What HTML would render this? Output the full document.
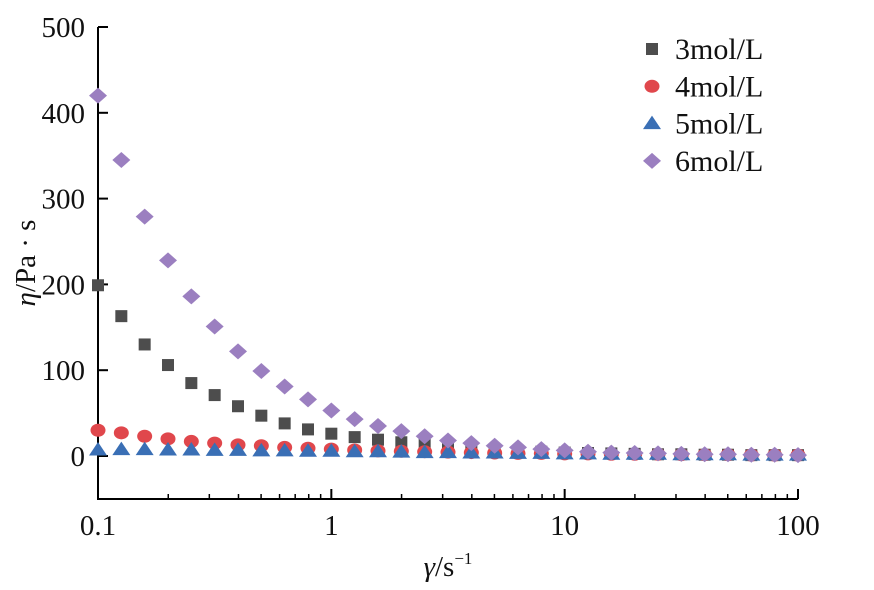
<!DOCTYPE html>
<html><head><meta charset="utf-8"><style>body{margin:0;background:#fff}svg text{font-family:"Liberation Serif",serif;fill:#111}</style></head>
<body>
<svg id="chart" width="874" height="585" xmlns="http://www.w3.org/2000/svg"></svg>
<script>
const categories = ["3mol/L","4mol/L","5mol/L","6mol/L"];
const xExps = [0,1,2,3,4,5,6,7,8,9,10,11,12,13,14,15,16,17,18,19,20,21,22,23,24,25,26,27,28,29,30];
const s3 = [199,163,130,106,85,71,58,47,38,31,26,22,19,16,13,11,9,7,6,5,4,3.5,3,2.5,2,2,1.5,1.5,1,1,1];
const s4 = [30,27,23,20,17,15,13,12,10,9,8,7,6,5.5,5,4.5,4,3.5,3,3,2.5,2.5,2,2,2,1.5,1.5,1.5,1,1,1];
const s5 = [7,7.5,7.5,7,7,6.5,6.5,6,6,5.5,5.5,5,5,4.5,4,4,3.5,3.5,3,3,2.5,2.5,2,2,2,1.5,1.5,1.5,1,1,1];
const s6 = [420,345,279,228,186,151,122,99,81,66,53,43,35,29,23,18,15,12,10,8,6.5,5,4,3.5,3,2.5,2,2,1.5,1.5,1];
const yTicks = [0,100,200,300,400,500];
const xTicks = [0.1,1,10,100];
const xTickLabels = ["0.1","1","10","100"];
const colors = ["#4d4d4d","#e0474c","#3a6fb5","#9b7fc0"];
const series = [s3,s4,s5,s6];
const svg = document.getElementById('chart');
const NS = "http://www.w3.org/2000/svg";
const L=98,R=798,T=27,B=499;
const X = v => L + (Math.log10(v)+1)/3*(R-L);
const Y = v => 456 - v*(456-27)/500;
function mk(tag, attrs, parent){const e=document.createElementNS(NS,tag);for(const k in attrs)e.setAttribute(k,attrs[k]);(parent||svg).appendChild(e);return e;}
const ax = mk('g',{});


mk('line',{x1:L,y1:T,x2:L,y2:B,stroke:'#000','stroke-width':2},ax);
mk('line',{x1:L-1,y1:B,x2:R,y2:B,stroke:'#000','stroke-width':2},ax);
yTicks.forEach(v=>{
  mk('line',{x1:L,y1:Y(v),x2:L+10,y2:Y(v),stroke:'#000','stroke-width':2},ax);
  const t=mk('text',{x:L-13,y:Y(v)+10,'text-anchor':'end','font-size':29},ax);t.textContent=v;
  
  
});
xTicks.forEach((v,i)=>{
  mk('line',{x1:X(v),y1:B,x2:X(v),y2:B-10,stroke:'#000','stroke-width':2},ax);
  const t=mk('text',{x:X(v),y:B+36,'text-anchor':'middle','font-size':29},ax);t.textContent=xTickLabels[i];
  
  
  if(i<3)for(let m=2;m<10;m++)mk('line',{x1:X(v*m),y1:B,x2:X(v*m),y2:B-5,stroke:'#000','stroke-width':1.5},ax);
});
const yl=mk('text',{x:0,y:0,'font-size':29,transform:'translate(35,263) rotate(-90)','text-anchor':'middle'});
yl.innerHTML='<tspan font-style="italic">η</tspan>/Pa · s';


const xl=mk('text',{x:448,y:576,'font-size':29,'text-anchor':'middle'});
xl.innerHTML='<tspan font-style="italic">γ</tspan>/s<tspan font-size="17" dy="-12">−1</tspan>';


function marker(k,x,y,g){
  const c=colors[k];
  if(k===0) return mk('rect',{x:x-6,y:y-6,width:12,height:12,fill:c},g);
  if(k===1) return mk('ellipse',{cx:x,cy:y,rx:7.5,ry:6.5,fill:c},g);
  if(k===2) return mk('polygon',{points:`${x},${y-8} ${x+9},${y+5.5} ${x-9},${y+5.5}`,fill:c},g);
  return mk('polygon',{points:`${x},${y-8} ${x+9},${y} ${x},${y+8} ${x-9},${y}`,fill:c},g);
}
series.forEach((s,k)=>{
  const g=mk('g',{});
  
  
  s.forEach((v,i)=>{
    const p=marker(k,X(0.1*Math.pow(10,xExps[i]/10)),Y(v),g);
    
    
  });
});
categories.forEach((c,k)=>{
  const g=mk('g',{});
  
  
  const y=49+k*37.3;
  marker(k,652,y,g);
  const t=mk('text',{x:675,y:y+10,'font-size':30},g);t.textContent=c;
});
</script>
</body></html>
